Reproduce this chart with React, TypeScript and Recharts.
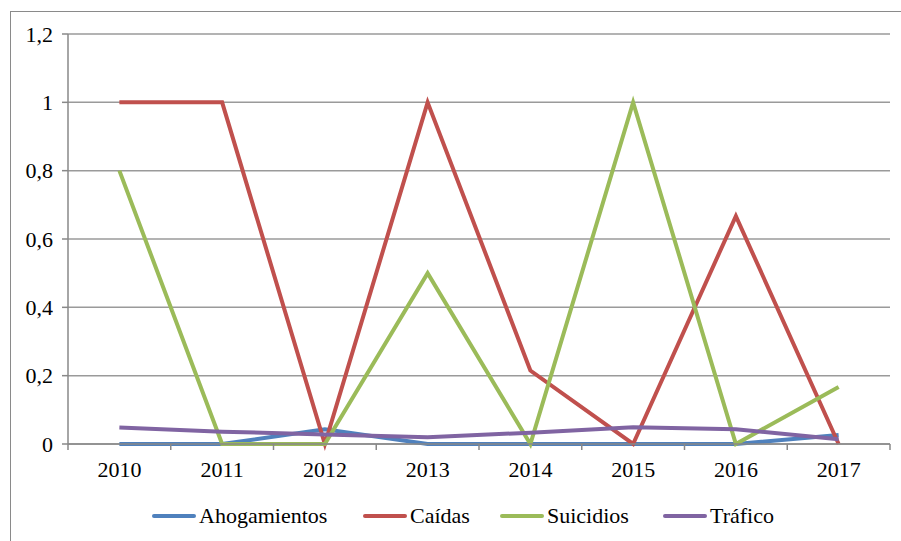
import React from "react";
import { LineChart, Line, XAxis, YAxis, CartesianGrid } from "recharts";

const years = ["2010", "2011", "2012", "2013", "2014", "2015", "2016", "2017"];
const ahogamientos = [0, 0, 0.043, 0, 0, 0, 0, 0.026];
const caidas = [1, 1, 0, 1, 0.215, 0, 0.667, 0];
const suicidios = [0.8, 0, 0, 0.5, 0, 1, 0, 0.167];
const trafico = [0.048, 0.036, 0.028, 0.02, 0.033, 0.049, 0.043, 0.014];
const yTicks = [0, 0.2, 0.4, 0.6, 0.8, 1, 1.2];

const series = [
  { key: "ahogamientos", name: "Ahogamientos", color: "#4F81BD" },
  { key: "caidas", name: "Caídas", color: "#C0504D" },
  { key: "suicidios", name: "Suicidios", color: "#9BBB59" },
  { key: "trafico", name: "Tráfico", color: "#8064A2" },
];

const data = years.map((y, i) => ({
  year: y,
  ahogamientos: ahogamientos[i],
  caidas: caidas[i],
  suicidios: suicidios[i],
  trafico: trafico[i],
}));

const W = 901;
const H = 541;
const M = { top: 34, right: 11, left: 0, bottom: 67 };
const Y_W = 68;
const band = (W - M.left - M.right - Y_W) / years.length;
const font = "Liberation Serif, DejaVu Serif, Times New Roman, serif";
// legend entry left edges, matching the Excel layout
const legendX = [152, 363, 500, 663];

const XTick = (props: any) => {
  const { x, y, payload, index } = props;
  return (
    <g>
      <line x1={x - band / 2} y1={y} x2={x - band / 2} y2={y + 6} stroke="#888" strokeWidth={1.5} />
      {index === years.length - 1 && (
        <line x1={x + band / 2} y1={y} x2={x + band / 2} y2={y + 6} stroke="#888" strokeWidth={1.5} />
      )}
      <text x={x} y={y + 33} textAnchor="middle" fontSize={22} fill="#000" style={{ fontFamily: font }}>
        {payload.value}
      </text>
    </g>
  );
};

export default function App() {
  return (
    <div style={{ position: "absolute", left: 0, top: 0, width: W, height: H, background: "#fff", overflow: "hidden", fontFamily: font }}>
      {/* outer frame, runs off the right and bottom edges */}
      <div style={{ position: "absolute", left: 10, top: 11, width: W, height: H, border: "1px solid #8a8a8a" }} />
      <LineChart width={W} height={H} data={data} margin={M} style={{ fontFamily: font }}>
        <CartesianGrid vertical={false} stroke="#9a9a9a" strokeWidth={1.5} />
        <XAxis
          dataKey="year"
          scale="band"
          axisLine={{ stroke: "#888", strokeWidth: 1.5 }}
          tickLine={false}
          tickSize={0}
          tickMargin={0}
          height={30}
          tick={<XTick />}
          interval={0}
        />
        <YAxis
          width={Y_W}
          domain={[0, 1.2]}
          ticks={yTicks}
          axisLine={{ stroke: "#888", strokeWidth: 1.5 }}
          tickLine={{ stroke: "#888", strokeWidth: 1.5 }}
          tickSize={6}
          tickMargin={9}
          tick={{ fontSize: 22, fill: "#000", style: { fontFamily: font } }}
          tickFormatter={(v: number) => String(v).replace(".", ",")}
        />
        {series.map((s) => (
          <Line
            key={s.key}
            type="linear"
            dataKey={s.key}
            name={s.name}
            stroke={s.color}
            strokeWidth={4}
            dot={false}
            isAnimationActive={false}
          />
        ))}
      </LineChart>
      {series.map((s, i) => (
        <div
          key={s.key}
          style={{
            position: "absolute",
            left: legendX[i],
            top: 503,
            display: "flex",
            alignItems: "center",
            fontSize: 22,
            color: "#000",
          }}
        >
          <div style={{ width: 44, height: 4, borderRadius: 2, background: s.color, marginRight: 3 }} />
          <span>{s.name}</span>
        </div>
      ))}
    </div>
  );
}
